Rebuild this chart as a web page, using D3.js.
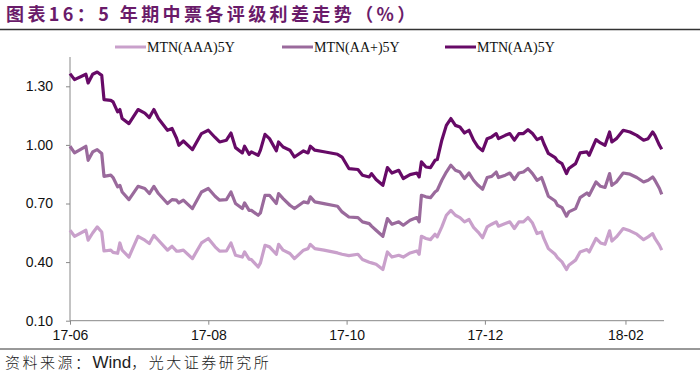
<!DOCTYPE html>
<html>
<head>
<meta charset="utf-8">
<script src="https://cdn.jsdelivr.net/npm/d3@7"></script>
<style>
  body { margin: 0; background: #fff; }
  svg { display: block; }
</style>
</head>
<body>
<svg id="chart" width="700" height="378"></svg>
<script>
// dates (yy-mm-dd)
var dates = [
  "17-06-01","17-06-03","17-06-08","17-06-09","17-06-11","17-06-13","17-06-15","17-06-16","17-06-19","17-06-20",
  "17-06-22","17-06-23","17-06-24","17-06-27","17-07-01","17-07-04","17-07-06","17-07-08","17-07-10","17-07-14",
  "17-07-16","17-07-18","17-07-19","17-07-21","17-07-25","17-07-29","17-08-01","17-08-04","17-08-06","17-08-09",
  "17-08-11","17-08-13","17-08-16","17-08-17","17-08-19","17-08-20","17-08-23","17-08-24","17-08-26","17-08-28",
  "17-08-31","17-09-01","17-09-03","17-09-06","17-09-08","17-09-12","17-09-14","17-09-15","17-09-17","17-09-21",
  "17-09-27","17-09-29","17-10-02","17-10-06","17-10-08","17-10-11","17-10-12","17-10-14","17-10-17","17-10-19",
  "17-10-21","17-10-24","17-10-26","17-10-29","17-11-01","17-11-02","17-11-03","17-11-05","17-11-07","17-11-09",
  "17-11-10","17-11-12","17-11-14","17-11-16","17-11-18","17-11-20","17-11-22","17-11-24","17-11-26","17-11-28",
  "17-11-30","17-12-02","17-12-04","17-12-06","17-12-07","17-12-10","17-12-12","17-12-14","17-12-16","17-12-18",
  "17-12-20","17-12-22","17-12-24","17-12-26","17-12-27","17-12-29","18-01-01","18-01-02","18-01-04","18-01-06",
  "18-01-07","18-01-10","18-01-12","18-01-15","18-01-16","18-01-19","18-01-21","18-01-23","18-01-25","18-01-26",
  "18-01-28","18-01-31","18-02-03","18-02-06","18-02-09","18-02-11","18-02-13","18-02-14","18-02-16","18-02-17"
];

var mtnAAA = [
  0.563,0.532,0.563,0.512,0.549,0.580,0.554,0.457,0.461,0.450,
  0.445,0.498,0.461,0.426,0.532,0.512,0.495,0.537,0.512,0.461,
  0.481,0.456,0.456,0.461,0.418,0.498,0.521,0.478,0.456,0.457,
  0.498,0.435,0.426,0.452,0.415,0.413,0.375,0.396,0.486,0.478,
  0.440,0.491,0.461,0.444,0.418,0.461,0.469,0.491,0.469,0.461,
  0.447,0.440,0.433,0.440,0.413,0.399,0.396,0.389,0.362,0.452,
  0.426,0.435,0.426,0.447,0.457,0.440,0.532,0.521,0.515,0.543,
  0.529,0.580,0.640,0.665,0.640,0.628,0.606,0.618,0.578,0.554,
  0.525,0.580,0.594,0.606,0.584,0.597,0.606,0.572,0.606,0.606,
  0.628,0.600,0.546,0.554,0.521,0.469,0.440,0.423,0.401,0.362,
  0.384,0.410,0.452,0.464,0.452,0.521,0.498,0.491,0.560,0.508,
  0.529,0.572,0.560,0.543,0.515,0.529,0.546,0.521,0.486,0.461
];

var mtnAAPlus = [
  0.993,0.959,0.993,0.921,0.964,0.976,0.956,0.839,0.845,0.833,
  0.785,0.793,0.759,0.720,0.788,0.777,0.751,0.788,0.751,0.700,
  0.720,0.717,0.703,0.717,0.674,0.759,0.777,0.737,0.717,0.720,
  0.759,0.700,0.674,0.703,0.665,0.665,0.640,0.652,0.742,0.742,
  0.700,0.751,0.725,0.691,0.674,0.708,0.703,0.734,0.708,0.699,
  0.686,0.657,0.631,0.628,0.606,0.597,0.584,0.563,0.532,0.623,
  0.594,0.606,0.589,0.614,0.628,0.606,0.742,0.734,0.730,0.759,
  0.768,0.819,0.861,0.896,0.870,0.861,0.828,0.856,0.819,0.793,
  0.773,0.833,0.839,0.861,0.833,0.845,0.856,0.823,0.856,0.861,
  0.879,0.853,0.819,0.833,0.802,0.737,0.713,0.691,0.679,0.635,
  0.657,0.674,0.730,0.754,0.742,0.810,0.788,0.782,0.853,0.793,
  0.810,0.856,0.850,0.833,0.810,0.819,0.836,0.819,0.777,0.747
];

var mtnAA = [
  1.365,1.334,1.362,1.317,1.362,1.373,1.356,1.232,1.228,1.220,
  1.169,1.181,1.135,1.109,1.181,1.163,1.140,1.181,1.135,1.075,
  1.084,1.034,0.998,1.020,0.976,1.058,1.075,1.038,1.015,1.024,
  1.061,0.986,0.959,0.993,0.952,0.964,0.947,0.973,1.054,1.032,
  0.970,1.015,0.989,0.973,0.938,0.969,0.959,0.993,0.973,0.965,
  0.952,0.938,0.879,0.874,0.845,0.836,0.853,0.823,0.793,0.884,
  0.856,0.870,0.828,0.848,0.856,0.836,0.913,0.887,0.884,0.921,
  0.925,1.024,1.100,1.135,1.100,1.092,1.061,1.075,1.024,0.989,
  0.970,1.032,1.041,1.058,1.032,1.049,1.058,1.024,1.058,1.058,
  1.078,1.058,1.027,1.038,1.007,0.956,0.935,0.918,0.904,0.853,
  0.879,0.904,0.959,0.964,0.947,1.027,1.010,0.998,1.066,1.015,
  1.032,1.075,1.066,1.049,1.024,1.032,1.066,1.049,0.998,0.978
];

var seriesNames = ["MTN(AAA)5Y", "MTN(AA+)5Y", "MTN(AA)5Y"];
var seriesColors = ["#c9a0cb", "#9a6a9c", "#670a67"];
var yTicks = [0.10, 0.40, 0.70, 1.00, 1.30];
var xTicks = ["17-06-01", "17-08-01", "17-10-01", "17-12-01", "18-02-01"];

var parse = d3.timeParse("%y-%m-%d");
var svg = d3.select("#chart");

var x = d3.scaleTime()
  .domain([parse("17-06-01"), parse("18-02-18")])
  .range([70, 664]);
var y = d3.scaleLinear()
  .domain([0.1, 1.45])
  .range([320.7, 57]);

// title
svg.append("text")
  .attr("x", 6).attr("y", 21)
  .attr("font-family", "'Noto Sans CJK SC', sans-serif")
  .attr("font-size", 18).attr("font-weight", "bold")
  .attr("letter-spacing", 3.4)
  .attr("fill", "#6a1b6a")
  .text("图表16：5 年期中票各评级利差走势（%）");
svg.append("line")
  .attr("x1", 0).attr("x2", 700).attr("y1", 29.5).attr("y2", 29.5)
  .attr("stroke", "#333").attr("stroke-width", 1.3);

// y axis
var yAxis = svg.append("g")
  .attr("transform", "translate(70,0)")
  .call(d3.axisLeft(y).tickValues(yTicks).tickSize(4).tickFormat(d3.format(".2f")));
yAxis.select(".domain").attr("stroke", "#888").attr("d", "M0," + y.range()[1] + "V" + y.range()[0]);
yAxis.selectAll(".tick line").attr("stroke", "#888");
yAxis.selectAll(".tick text")
  .attr("x", -17)
  .attr("font-family", "Arial, 'Liberation Sans', sans-serif")
  .attr("font-size", 14).attr("fill", "#111");

// x axis
var xAxis = svg.append("g")
  .attr("transform", "translate(0," + y(0.1) + ")")
  .call(d3.axisBottom(x).tickValues(xTicks.map(parse)).tickSize(4).tickFormat(d3.timeFormat("%y-%m")));
xAxis.select(".domain").attr("stroke", "#888").attr("d", "M" + x.range()[0] + ",0H" + x.range()[1]);
xAxis.selectAll(".tick line").attr("stroke", "#888");
xAxis.selectAll(".tick text")
  .attr("y", 9)
  .attr("font-family", "Arial, 'Liberation Sans', sans-serif")
  .attr("font-size", 14).attr("fill", "#111");

// lines
var allSeries = [mtnAAA, mtnAAPlus, mtnAA];
var line = d3.line()
  .x(function(d, i) { return x(parse(dates[i])); })
  .y(function(d) { return y(d); });

svg.append("g").selectAll("path")
  .data(allSeries).enter().append("path")
  .attr("fill", "none")
  .attr("stroke", function(d, i) { return seriesColors[i]; })
  .attr("stroke-width", 3.2)
  .attr("stroke-linejoin", "round")
  .attr("d", line);

// legend
var legendX = [115, 282, 445];
var legend = svg.append("g").selectAll("g")
  .data(seriesNames).enter().append("g")
  .attr("transform", function(d, i) { return "translate(" + legendX[i] + ",47)"; });
legend.append("line")
  .attr("x1", 0).attr("x2", 31)
  .attr("stroke", function(d, i) { return seriesColors[i]; })
  .attr("stroke-width", 3);
legend.append("text")
  .attr("x", 32).attr("y", 5)
  .attr("font-family", "'Liberation Serif', 'Times New Roman', serif")
  .attr("font-size", 14).attr("fill", "#111")
  .text(function(d) { return d; });

// source
svg.append("line")
  .attr("x1", 0).attr("x2", 700).attr("y1", 349).attr("y2", 349)
  .attr("stroke", "#333").attr("stroke-width", 1);
var src = svg.append("text")
  .attr("x", 5).attr("y", 368)
  .attr("font-family", "'Noto Sans CJK SC', sans-serif")
  .attr("font-size", 15).attr("font-weight", 300)
  .attr("letter-spacing", 2.5)
  .attr("fill", "#222");
src.append("tspan").text("资料来源：");
src.append("tspan").attr("font-family", "Arial, 'Liberation Sans', sans-serif")
  .attr("font-size", 17).attr("letter-spacing", 0).text("Wind");
src.append("tspan").text("，光大证券研究所");
</script>
</body>
</html>
